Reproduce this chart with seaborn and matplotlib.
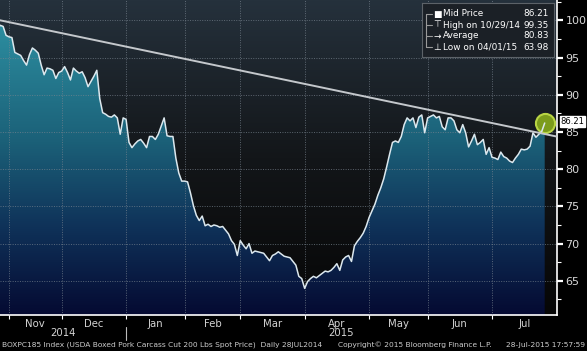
import numpy as np
import pandas as pd
import seaborn as sns
import matplotlib.pyplot as plt
import matplotlib.transforms as mtransforms
from matplotlib.colors import LinearSegmentedColormap

# USDA report days (federal holidays skipped)
holidays = ["2014-11-11", "2014-11-27", "2014-12-25", "2015-01-01", "2015-01-19",
            "2015-02-16", "2015-05-25", "2015-07-03"]
start_day = "2014-10-28"
end_day = "2015-07-28"

prices = [
    98.8, 99.35, 99.2, 98.0,
    97.8, 97.7, 95.7, 95.5, 95.3, 94.6, 94.0, 95.4, 96.3, 96.0, 95.6, 94.0, 92.7, 93.6, 93.5, 93.3, 92.2, 93.0,
    93.2, 93.8, 93.0, 92.0, 93.6, 93.2, 92.9, 93.1, 92.3, 91.1, 91.8, 92.5, 93.3, 89.5, 87.6, 87.4, 87.1, 87.0,
    87.3, 86.9, 84.7, 86.9,
    86.7, 83.6, 82.9, 83.4, 83.8, 84.0, 83.5, 82.9, 84.4, 84.4, 84.0, 84.7, 85.8, 86.9, 84.5, 84.4, 84.4, 81.5,
    79.5, 78.4,
    78.4, 78.3, 76.8, 75.1, 73.8, 73.1, 73.7, 72.4, 72.6, 72.3, 72.5, 72.4, 72.2, 72.3, 71.8, 71.3, 70.4, 69.9, 68.4,
    70.4, 69.8, 69.3, 70.0, 68.7, 69.0, 68.9, 68.8, 68.7, 68.2, 67.7, 68.4, 68.6, 68.9, 68.6, 68.3, 68.2, 68.1,
    67.6, 67.1, 65.6, 65.3,
    63.98, 64.9, 65.3, 65.6, 65.4, 65.7, 66.0, 66.3, 66.2, 66.4, 66.8, 67.3, 66.4, 67.8, 68.2, 68.4, 67.6, 69.7,
    70.3, 70.8, 71.4, 72.3,
    73.5, 74.4, 75.3, 76.5, 77.5, 78.7, 80.3, 82.0, 83.6, 83.8, 83.6, 84.4, 86.0, 86.9, 86.5, 86.9, 85.6, 87.0,
    87.3, 84.9,
    86.9, 87.1, 87.3, 86.9, 87.1, 85.7, 85.3, 86.9, 86.9, 86.5, 85.3, 84.9, 86.0, 84.9, 83.0, 83.8, 84.7, 83.3,
    83.6, 84.0, 82.0, 82.9,
    81.6, 81.5, 81.3, 82.3, 81.7, 81.5, 81.1, 80.9, 81.5, 82.0, 82.7, 82.6, 82.7, 83.1, 84.9, 84.3, 84.7, 85.1, 86.21,
]

month_names = ["Nov", "Dec", "Jan", "Feb", "Mar", "Apr", "May", "Jun", "Jul"]
month_firsts = ["2014-11-01", "2014-12-01", "2015-01-01", "2015-02-01", "2015-03-01",
                "2015-04-01", "2015-05-01", "2015-06-01", "2015-07-01"]
year_labels = ["2014", "2015"]
trend_dates = ["2014-10-28", "2015-08-03"]
trend_vals = [100.1, 84.4]
legend_names = ["Mid Price", "High on 10/29/14", "Average", "Low on 04/01/15"]
legend_vals = ["86.21", "99.35", "80.83", "63.98"]
legend_icons = ["\u25A0", "\u22A4", "\u2192", "\u22A5"]
last_price = 86.21

# trading-day axis like the terminal
days = pd.bdate_range(start_day, end_day, freq="C", holidays=holidays)
df = pd.DataFrame({"day": days, "price": prices})
hol = np.array(holidays, dtype="datetime64[D]")
df["n"] = np.busday_count(np.datetime64(start_day), df["day"].values.astype("datetime64[D]"), holidays=hol)
month_pos = np.busday_count(np.datetime64(start_day),
                            np.busday_offset(np.array(month_firsts, dtype="datetime64[D]"), 0, roll="forward", holidays=hol),
                            holidays=hol)
trend_pos = np.busday_count(np.datetime64(start_day), np.array(trend_dates, dtype="datetime64[D]"), holidays=hol)

sns.set_theme(style="dark")
plt.rcParams["font.family"] = ["DejaVu Sans"]

fig = plt.figure(figsize=(5.87, 3.51), dpi=100)
fig.patch.set_facecolor("black")
ax = fig.add_axes([0, 36 / 351, 557 / 587, 315 / 351])

x0, x1 = 0.93, 191.2
y0, y1 = 60.4, 102.75

bg_cmap = LinearSegmentedColormap.from_list("bg", [(0, "#25313c"), (0.5, "#131619"), (1, "#060606")])
fill_cmap = LinearSegmentedColormap.from_list(
    "fill", [(0, "#3097a8"), (0.45, "#1b6078"), (0.72, "#0f3259"), (1, "#050a32")])
grad = np.linspace(0, 1, 256).reshape(-1, 1)
ax.imshow(grad, cmap=bg_cmap, aspect="auto", extent=[x0, x1, y0, y1], origin="upper", zorder=0)

poly = ax.fill_between(df["n"], df["price"], y0, color="none", lw=0, zorder=1)
fill_img = ax.imshow(grad, cmap=fill_cmap, aspect="auto", extent=[x0, x1, y0, y1], origin="upper", zorder=1)
fill_img.set_clip_path(poly.get_paths()[0], transform=ax.transData)

sns.lineplot(data=df, x="n", y="price", ax=ax, color="#dce8ee", lw=1.1, zorder=4)
ax.plot(trend_pos, trend_vals, color="#c4c8cc", lw=1.4, zorder=5)

ax.scatter([df["n"].iloc[-1]], [last_price], s=190, color="#7c9c1c", edgecolor="#b8d444",
           lw=1.5, zorder=3)

ax.set_xlim(x0, x1)
ax.set_ylim(y0, y1)
ax.set_xlabel("")
ax.set_ylabel("")

ax.set_xticks(month_pos)
ax.set_xticklabels([])
ax.set_yticks([65, 70, 75, 80, 85, 90, 95, 100])
ax.set_yticks(np.arange(62.5, 102.6, 5), minor=True)
ax.yaxis.tick_right()
ax.tick_params(axis="y", which="major", direction="out", length=4, width=1.6, color="white",
               labelcolor="#d8d8d8", labelsize=8, pad=2, right=True, left=False)
ax.tick_params(axis="y", which="minor", direction="out", length=3, width=0.8, color="white",
               right=True, left=False)
ax.tick_params(axis="x", which="major", direction="out", length=3, width=0.8, color="white", bottom=True)

ax.grid(True, which="major", color="#7a8590", lw=0.7, linestyle=(0, (1, 1.5)), alpha=0.7)
ax.set_axisbelow(False)
for s in ["left", "top"]:
    ax.spines[s].set_visible(False)
for s in ["right", "bottom"]:
    ax.spines[s].set_color("white")
    ax.spines[s].set_linewidth(1.2)

# month and year labels
bt = mtransforms.blended_transform_factory(ax.transData, ax.transAxes)
edges = list(month_pos) + [x1]
for i, name in enumerate(month_names):
    ax.text((edges[i] + edges[i + 1]) / 2, -0.027, name, transform=bt, ha="center", va="center",
            color="#d4d4d4", fontsize=7.3)
ax.text((x0 + month_pos[2]) / 2, -0.058, year_labels[0], transform=bt, ha="center", va="center",
        color="#d4d4d4", fontsize=7.3)
ax.text((month_pos[2] + x1) / 2, -0.058, year_labels[1], transform=bt, ha="center", va="center",
        color="#d4d4d4", fontsize=7.3)
ax.plot([month_pos[2], month_pos[2]], [-0.038, -0.08], transform=bt, color="#bbbbbb", lw=0.8, clip_on=False)

# last price tag
ax.annotate(f"{last_price:.2f}", xy=(1.0, last_price), xycoords=("axes fraction", "data"),
            xytext=(2.5, 1), textcoords="offset points", ha="left", va="center", fontsize=6.0,
            color="black", bbox=dict(boxstyle="square,pad=0.1", fc="white", ec="white"),
            annotation_clip=False)

# legend box
lax = fig.add_axes([422 / 587, 1 - 57 / 351, 132 / 587, 54 / 351])
lax.set_facecolor("#1b2026")
lax.set_xlim(0, 132)
lax.set_ylim(54, 0)
lax.set_xticks([])
lax.set_yticks([])
for s in lax.spines.values():
    s.set_color("#5c6268")
    s.set_linewidth(0.8)
rows_y = [11, 22, 33, 44]
lax.plot([4, 4], [11, 44], color="#9a9a9a", lw=0.8)
for ry, icon, name, val in zip(rows_y, legend_icons, legend_names, legend_vals):
    lax.plot([4, 10], [ry, ry], color="#9a9a9a", lw=0.8)
    lax.text(15, ry, icon, ha="center", va="center", color="white", fontsize=6.5)
    lax.text(21, ry, name, ha="left", va="center", color="white", fontsize=6.4)
    lax.text(127, ry, val, ha="right", va="center", color="white", fontsize=6.4)

fig.text(2 / 587, 0.017, "BOXPC185 Index (USDA Boxed Pork Carcass Cut 200 Lbs Spot Price)  Daily 28JUL2014",
         ha="left", va="center", color="#cccccc", fontsize=5.4)
fig.text(338 / 587, 0.017, "Copyright\u00a9 2015 Bloomberg Finance L.P.", ha="left", va="center",
         color="#cccccc", fontsize=5.4)
fig.text(585 / 587, 0.017, "28-Jul-2015 17:57:59", ha="right", va="center", color="#cccccc", fontsize=5.4)

fig.savefig("out.png", dpi=100, facecolor="black")
